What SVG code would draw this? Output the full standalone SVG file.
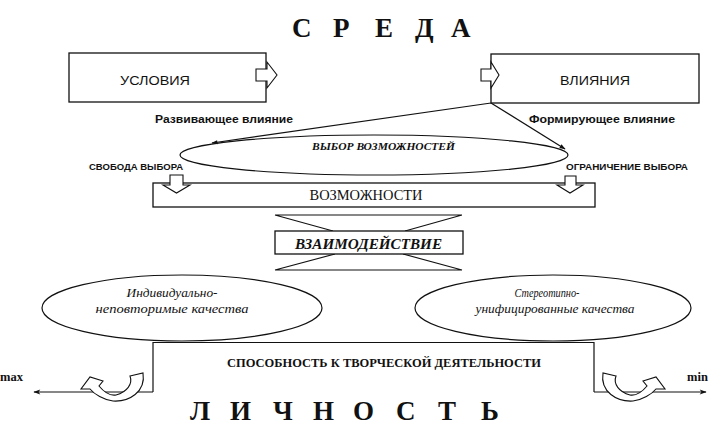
<svg xmlns="http://www.w3.org/2000/svg" width="713" height="425" viewBox="0 0 713 425">
<defs>
<style>
.ln{fill:none;stroke:#111;stroke-width:1.2}
.bx{fill:#fff;stroke:#111;stroke-width:1.3}
.ba{fill:#fff;stroke:#111;stroke-width:1.1;stroke-linejoin:miter}
.ttl{font-family:"Liberation Serif",serif;font-weight:bold;font-size:27px;fill:#111}
.sans{font-family:"Liberation Sans",Arial,sans-serif;fill:#111}
.serif{font-family:"Liberation Serif",serif;fill:#111}
</style>
<marker id="ah" viewBox="0 0 10 10" refX="9" refY="5" markerWidth="8" markerHeight="6" orient="auto" markerUnits="userSpaceOnUse">
<path d="M0,1.5 L10,5 L0,8.5 Z" fill="#111"/>
</marker>
<marker id="ax" viewBox="0 0 10 10" refX="9" refY="5" markerWidth="9" markerHeight="7" orient="auto" markerUnits="userSpaceOnUse">
<path d="M0,1.5 L10,5 L0,8.5 L2.5,5 Z" fill="#111"/>
</marker>
<path id="uturn" d="M130,376 L143,373 C146,392 129,402 113,401 C104,400 94,394 90,389 L81,389 L90,377 L103,381 L99,386 C104,392 110,396 116,395 C127,392 133,384 130,376 Z"/>
</defs>
<rect width="713" height="425" fill="#fff"/>

<g id="title-sreda">
<text class="ttl" y="37" x="292 333 375 415 451">СРЕДА</text>
</g>

<g id="connectors">
<line class="ln" x1="491" y1="103" x2="212" y2="143" marker-end="url(#ah)"/>
<line class="ln" x1="491" y1="103" x2="565" y2="149" marker-end="url(#ah)"/>
<path class="ln" d="M275,215 H462 M275,215 L333,231 M462,215 L405,231 M275,270 H462 M275,270 L335,254 M462,270 L403,254"/>
<line class="ln" x1="153" y1="392" x2="34" y2="392" marker-end="url(#ax)"/>
<line class="ln" x1="594" y1="392" x2="706" y2="392" marker-end="url(#ax)"/>
</g>

<g id="usloviya">
<rect class="bx" x="69" y="53" width="197" height="49"/>
<text class="sans" x="155" y="85" font-size="13" text-anchor="middle" textLength="70" lengthAdjust="spacingAndGlyphs">УСЛОВИЯ</text>
<polygon class="ba" points="256,69 267,69 267,62 277,75 267,88 267,81 256,81"/>
</g>

<g id="vliyaniya">
<rect class="bx" x="491" y="54" width="208" height="49"/>
<text class="sans" x="595" y="85" font-size="13" text-anchor="middle" textLength="70" lengthAdjust="spacingAndGlyphs">ВЛИЯНИЯ</text>
<polygon class="ba" points="481,69 491,69 491,62 499,75 491,88 491,81 481,81"/>
</g>

<g id="label-razv">
<text class="sans" x="155" y="123" font-size="10.5" font-weight="bold" textLength="138" lengthAdjust="spacingAndGlyphs">Развивающее влияние</text>
</g>
<g id="label-form">
<text class="sans" x="529" y="123" font-size="10.5" font-weight="bold" textLength="146" lengthAdjust="spacingAndGlyphs">Формирующее влияние</text>
</g>

<g id="vybor">
<ellipse class="ln" cx="374" cy="155" rx="194" ry="20"/>
<text class="serif" x="383.5" y="150" font-size="10.5" font-weight="bold" font-style="italic" text-anchor="middle" textLength="143" lengthAdjust="spacingAndGlyphs">ВЫБОР ВОЗМОЖНОСТЕЙ</text>
</g>

<g id="label-svoboda">
<text class="sans" x="89" y="170" font-size="9" font-weight="bold" textLength="94" lengthAdjust="spacingAndGlyphs">СВОБОДА ВЫБОРА</text>
</g>
<g id="label-ogran">
<text class="sans" x="566" y="170" font-size="9" font-weight="bold" textLength="122" lengthAdjust="spacingAndGlyphs">ОГРАНИЧЕНИЕ ВЫБОРА</text>
</g>

<g id="vozmozhnosti">
<rect class="bx" x="153" y="183" width="442" height="24"/>
<text class="serif" x="366" y="200" font-size="14" text-anchor="middle" textLength="113" lengthAdjust="spacingAndGlyphs">ВОЗМОЖНОСТИ</text>
<polygon class="ba" points="170,175 183,175 183,185 190,185 176.5,193 163,185 170,185"/>
<polygon class="ba" points="565,176 576,176 576,185 583,185 570,193 557,185 565,185"/>
</g>

<g id="vzaimodeistvie">
<rect class="bx" x="275" y="231" width="188" height="23"/>
<text class="serif" x="368.5" y="249" font-size="15" font-weight="bold" font-style="italic" text-anchor="middle" textLength="147" lengthAdjust="spacingAndGlyphs">ВЗАИМОДЕЙСТВИЕ</text>
</g>

<g id="individ">
<ellipse class="ln" cx="182" cy="308" rx="140" ry="33"/>
<text class="serif" font-size="12.5" font-style="italic" text-anchor="middle"><tspan x="172" y="297" textLength="91" lengthAdjust="spacingAndGlyphs">Индивидуально-</tspan><tspan x="172" y="313" textLength="153" lengthAdjust="spacingAndGlyphs">неповторимые качества</tspan></text>
</g>

<g id="stereo">
<ellipse class="ln" cx="553" cy="308" rx="138" ry="33"/>
<text class="serif" font-size="12.5" font-style="italic" text-anchor="middle"><tspan x="547" y="297" textLength="65" lengthAdjust="spacingAndGlyphs">Стереотипно-</tspan><tspan x="555" y="313" textLength="159" lengthAdjust="spacingAndGlyphs">унифицированные качества</tspan></text>
</g>

<g id="sposobnost">
<path class="ln" d="M153,392 V342.5 H594 V392"/>
<text class="serif" x="384" y="367" font-size="12" font-weight="bold" text-anchor="middle" textLength="314" lengthAdjust="spacingAndGlyphs">СПОСОБНОСТЬ К ТВОРЧЕСКОЙ ДЕЯТЕЛЬНОСТИ</text>
</g>

<g id="max">
<text class="serif" x="0" y="381" font-size="12.5" font-weight="bold">max</text>
<use href="#uturn" class="ba"/>
</g>
<g id="min">
<text class="serif" x="687" y="381" font-size="12.5" font-weight="bold">min</text>
<use href="#uturn" class="ba" transform="translate(746,0) scale(-1,1)"/>
</g>

<g id="title-lichnost">
<text class="ttl" y="420" font-size="26" x="190 230 273 313 353 396 438 481">ЛИЧНОСТЬ</text>
</g>
</svg>
